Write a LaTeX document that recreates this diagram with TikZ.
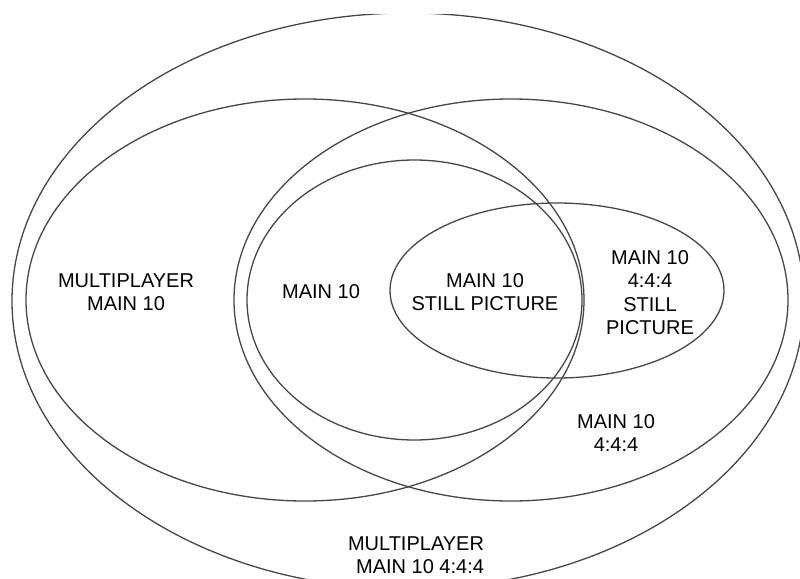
\documentclass[tikz,border=0pt]{standalone}
\usepackage{fontspec}
\setmainfont{Liberation Sans}
\usetikzlibrary{shapes.geometric}
\tikzset{
  venn/.style={ellipse, draw=black!72, line width=1.3pt, inner sep=0pt, outer sep=0pt},
  lbl/.style={font=\fontsize{20pt}{23.5pt}\selectfont, align=center, text=black, inner sep=0pt}
}
\begin{document}
\begin{tikzpicture}[x=1pt,y=-1pt]
\useasboundingbox (0,0) rectangle (800,578);
\fill[white] (0,0) rectangle (800,578);
\begin{scope}
\clip (0,15) rectangle (800,578);
\node[venn, minimum width=792pt, minimum height=576pt] (outer) at (408,301) {};
\node[venn, minimum width=558pt, minimum height=402pt] (mp) at (305,300) {};
\node[venn, minimum width=554pt, minimum height=402pt] (m444) at (511,300) {};
\node[venn, minimum width=335pt, minimum height=280pt] (m10) at (414.5,300) {};
\node[venn, minimum width=334pt, minimum height=175pt] (still) at (557,290.5) {};
\end{scope}
\node[lbl] (tmp) at (126,292) {MULTIPLAYER\\MAIN 10};
\node[lbl] (tm10) at (321,292) {MAIN 10};
\node[lbl] (tsp) at (485,292) {MAIN 10\\STILL PICTURE};
\node[lbl] (t444sp) at (650,292.5) {MAIN 10\\4:4:4\\STILL\\PICTURE};
\node[lbl] (t444) at (616,433) {MAIN 10\\4:4:4};
\node[lbl, align=right] (tmp444) at (416,555) {MULTIPLAYER\\MAIN 10 4:4:4};
\end{tikzpicture}
\end{document}
